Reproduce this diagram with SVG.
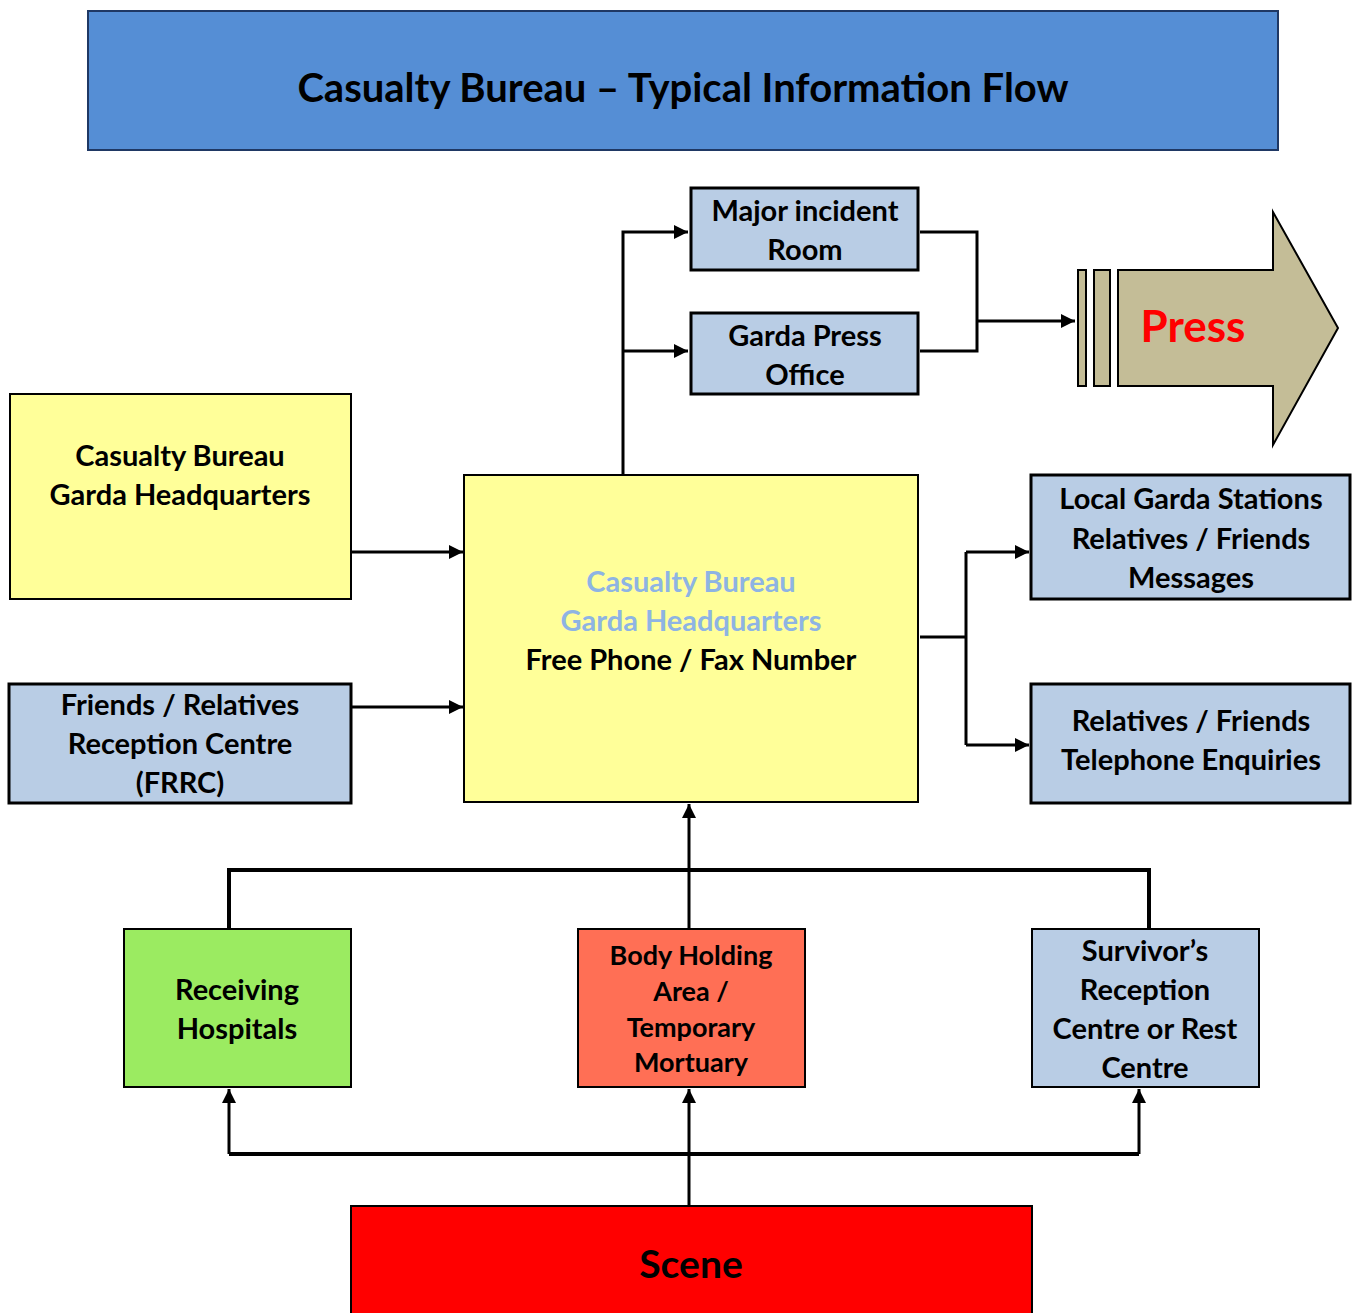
<svg xmlns="http://www.w3.org/2000/svg" width="1359" height="1313" viewBox="0 0 1359 1313">
<defs>
<style>
.t{font-family:Lato,"Open Sans","Liberation Sans",sans-serif;font-weight:bold;text-anchor:middle;fill:#000}
.b{stroke:#000;stroke-width:3}
.blue{fill:#B9CDE5}
.ln{fill:none;stroke:#000;stroke-width:3}
</style>
<marker id="ah" viewBox="0 0 10 10" refX="10" refY="5" markerWidth="17" markerHeight="14" markerUnits="userSpaceOnUse" orient="auto">
<path d="M0,0 L10,5 L0,10 z" fill="#000"/>
</marker>
</defs>
<rect width="1359" height="1313" fill="#fff"/>

<g id="title">
<rect x="88" y="11" width="1190" height="139" fill="#558ED5" stroke="#1F3864" stroke-width="2"/>
<text class="t" x="683" y="102" font-size="40">Casualty Bureau – Typical Information Flow</text>
</g>

<g id="connectors">
<polyline class="ln" points="623,474 623,232 688,232" marker-end="url(#ah)"/>
<polyline class="ln" points="623,351 688,351" marker-end="url(#ah)"/>
<polyline class="ln" points="920,232 977,232 977,351 920,351"/>
<polyline class="ln" points="977,321 1075,321" marker-end="url(#ah)"/>
<polyline class="ln" points="351,552 463,552" marker-end="url(#ah)"/>
<polyline class="ln" points="351,707 463,707" marker-end="url(#ah)"/>
<polyline class="ln" points="920,637 966,637"/>
<polyline class="ln" points="966,552 966,745"/>
<polyline class="ln" points="966,552 1029,552" marker-end="url(#ah)"/>
<polyline class="ln" points="966,745 1029,745" marker-end="url(#ah)"/>
<polyline class="ln" points="229,929 229,870 1149,870 1149,929" style="stroke-width:4"/>
<polyline class="ln" points="689,929 689,804" marker-end="url(#ah)"/>
<polyline class="ln" points="229,1154 1139,1154" style="stroke-width:4"/>
<polyline class="ln" points="229,1154 229,1089" marker-end="url(#ah)"/>
<polyline class="ln" points="1139,1154 1139,1089" marker-end="url(#ah)"/>
<polyline class="ln" points="689,1205 689,1089" marker-end="url(#ah)"/>
</g>

<g id="major-incident-room">
<rect class="b blue" x="691" y="188" width="227" height="82"/>
<text class="t" x="805" y="221" font-size="29">Major incident</text>
<text class="t" x="805" y="260" font-size="29">Room</text>
</g>

<g id="garda-press-office">
<rect class="b blue" x="691" y="313" width="227" height="81"/>
<text class="t" x="805" y="346" font-size="29">Garda Press</text>
<text class="t" x="805" y="385" font-size="29">Office</text>
</g>

<g id="press">
<rect x="1078" y="270" width="8" height="116" fill="#C4BD97" stroke="#000" stroke-width="2"/>
<rect x="1094" y="270" width="16" height="116" fill="#C4BD97" stroke="#000" stroke-width="2"/>
<path d="M1118,270 L1273,270 L1273,212 L1338,328 L1273,445 L1273,386 L1118,386 Z" fill="#C4BD97" stroke="#000" stroke-width="2"/>
<text class="t" x="1193" y="342" font-size="44" style="fill:#FF0000">Press</text>
</g>

<g id="casualty-bureau-hq">
<rect x="10" y="394" width="341" height="205" fill="#FFFF99" stroke="#000" stroke-width="2"/>
<text class="t" x="180" y="466" font-size="29">Casualty Bureau</text>
<text class="t" x="180" y="505" font-size="29">Garda Headquarters</text>
</g>

<g id="frrc">
<rect class="b blue" x="9" y="684" width="342" height="119"/>
<text class="t" x="180" y="715" font-size="29">Friends / Relatives</text>
<text class="t" x="180" y="754" font-size="29">Reception Centre</text>
<text class="t" x="180" y="793" font-size="29">(FRRC)</text>
</g>

<g id="central">
<rect x="464" y="475" width="454" height="327" fill="#FFFF99" stroke="#000" stroke-width="2"/>
<text class="t" x="691" y="592" font-size="29" style="fill:#8EB4E3">Casualty Bureau</text>
<text class="t" x="691" y="631" font-size="29" style="fill:#8EB4E3">Garda Headquarters</text>
<text class="t" x="691" y="670" font-size="29">Free Phone / Fax Number</text>
</g>

<g id="local-garda">
<rect class="b blue" x="1031" y="475" width="319" height="124"/>
<text class="t" x="1191" y="509" font-size="29">Local Garda Stations</text>
<text class="t" x="1191" y="549" font-size="29">Relatives / Friends</text>
<text class="t" x="1191" y="588" font-size="29">Messages</text>
</g>

<g id="telephone-enquiries">
<rect class="b blue" x="1031" y="684" width="319" height="119"/>
<text class="t" x="1191" y="731" font-size="29">Relatives / Friends</text>
<text class="t" x="1191" y="770" font-size="29">Telephone Enquiries</text>
</g>

<g id="receiving-hospitals">
<rect x="124" y="929" width="227" height="158" fill="#9BEB61" stroke="#000" stroke-width="2"/>
<text class="t" x="237" y="1000" font-size="29">Receiving</text>
<text class="t" x="237" y="1039" font-size="29">Hospitals</text>
</g>

<g id="body-holding">
<rect x="578" y="929" width="227" height="158" fill="#FF6F55" stroke="#000" stroke-width="2"/>
<text class="t" x="691" y="965" font-size="27">Body Holding</text>
<text class="t" x="691" y="1001" font-size="27">Area /</text>
<text class="t" x="691" y="1037" font-size="27">Temporary</text>
<text class="t" x="691" y="1072" font-size="27">Mortuary</text>
</g>

<g id="survivors-reception">
<rect class="blue" x="1032" y="929" width="227" height="158" stroke="#000" stroke-width="2"/>
<text class="t" x="1145" y="961" font-size="29">Survivor’s</text>
<text class="t" x="1145" y="1000" font-size="29">Reception</text>
<text class="t" x="1145" y="1039" font-size="29">Centre or Rest</text>
<text class="t" x="1145" y="1078" font-size="29">Centre</text>
</g>

<g id="scene">
<rect x="351" y="1206" width="681" height="110" fill="#FF0000" stroke="#000" stroke-width="2"/>
<text class="t" x="691" y="1278" font-size="39">Scene</text>
</g>
</svg>
